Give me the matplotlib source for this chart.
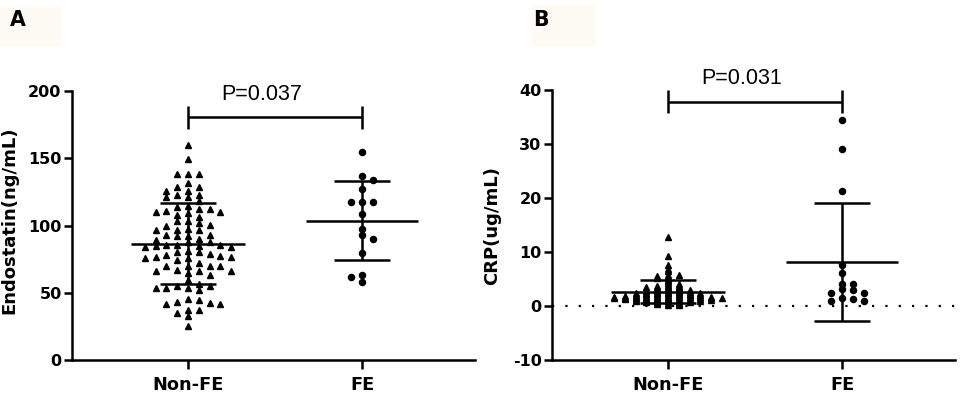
import matplotlib
matplotlib.use('Agg')
import matplotlib.pyplot as plt
import numpy as np
from matplotlib.patches import Rectangle

plt.rcParams['font.family'] = ['DejaVu Sans']
plt.rcParams['axes.unicode_minus'] = False

groups = ['Non-FE', 'FE']

# panel A: endostatin (ng/mL)
endo_nonfe = [
    159.7, 149.3, 138.6, 138.6, 138.6, 131.9, 128.9, 128.9, 125.7, 125.7, 123.0, 123.0, 121.0, 121.0,
    118.0, 114.5, 113.8, 112.0, 112.0, 110.8, 110.3, 110.3, 109.1, 107.8, 106.6, 103.4, 103.1, 101.6,
    100.5, 99.6, 97.6, 97.1, 97.1, 96.6, 93.4, 93.2, 92.2, 92.2, 90.2, 89.7, 88.0, 87.5, 86.0, 86.0,
    86.0, 85.0, 84.7, 84.2, 84.2, 81.0, 80.5, 80.5, 79.3, 78.5, 77.3, 76.8, 76.8, 76.1, 76.1, 74.3,
    72.3, 70.3, 70.3, 69.9, 69.9, 67.4, 66.1, 66.1, 66.1, 64.9, 63.2, 59.4, 57.0, 55.5, 55.0, 53.7,
    53.7, 53.7, 52.5, 45.5, 45.0, 43.1, 42.6, 41.6, 41.6, 37.6, 37.6, 35.1, 32.6, 25.2,
]
endo_fe = [154.9, 137.1, 133.6, 127.0, 117.3, 117.3, 117.3, 108.6, 97.7, 93.0, 90.0, 79.7, 63.3, 61.6, 58.4]
endo_mean = [86.7, 103.8]
endo_sd = [30.0, 29.3]

# panel B: CRP (ug/mL)
crp_nonfe = [
    12.8, 9.3, 7.6, 6.8, 6.5, 5.8, 5.7, 5.6, 5.5, 5.3, 5.2, 4.9, 4.6, 4.3, 4.1,
    3.9, 3.8, 3.7, 3.6, 3.6, 3.5, 3.4, 3.3, 3.2, 3.1, 3.0, 3.0,
    2.9, 2.8, 2.8, 2.7, 2.6, 2.6, 2.5, 2.5, 2.4, 2.4, 2.4, 2.3, 2.3, 2.2, 2.2, 2.1, 2.1, 2.0, 2.0, 2.0,
    1.9, 1.9, 1.9, 1.8, 1.8, 1.8, 1.8, 1.7, 1.7, 1.7, 1.6, 1.6, 1.6, 1.6, 1.5, 1.5, 1.5, 1.5,
    1.4, 1.4, 1.4, 1.3, 1.3, 1.3, 1.2, 1.2, 1.2, 1.1, 1.1, 1.0, 1.0, 1.0, 0.9, 0.9, 0.8, 0.8,
    0.7, 0.7, 0.6, 0.5, 0.4, 0.3, 0.2,
]
crp_fe = [34.45, 29.0, 21.4, 7.6, 6.2, 4.2, 4.2, 3.2, 3.0, 2.4, 2.4, 1.5, 1.3, 1.0, 0.9]
crp_mean = [2.7, 8.2]
crp_sd = [2.15, 10.9]


def swarm(vals, step, yh):
    # greedy column-scatter layout: nearest free slot to the centre
    vals = np.asarray(vals, dtype=float)
    xs = np.zeros(len(vals))
    placed = []
    flip = 1
    for i in np.argsort(-vals):
        v = vals[i]
        for k in range(0, 80):
            cands = [0.0] if k == 0 else [flip * k * step / 2, -flip * k * step / 2]
            hit = None
            for c in cands:
                if all(abs(c - px) >= step * 0.99 or abs(v - py) >= yh for px, py in placed):
                    hit = c
                    break
            if hit is not None:
                break
        xs[i] = hit
        placed.append((hit, v))
        flip = -flip
    return xs


def panel(ax, data, means, sds, ylim, yticks, yh, bracket, ptxt, zero_line=False):
    step = 0.062
    markers = ['^', 'o']
    sizes = [3.9, 4.4]
    for i, vals in enumerate(data):
        xs = swarm(vals, step, yh[i])
        ax.plot(i + xs, vals, ls='none', marker=markers[i], ms=sizes[i], color='black',
                mec='black', zorder=3, clip_on=False)
    half_mean = [0.33, 0.32]
    for i, (m, s) in enumerate(zip(means, sds)):
        ax.plot([i - half_mean[i], i + half_mean[i]], [m, m], color='black', lw=1.8, zorder=4,
                solid_capstyle='butt')
        ax.errorbar(i, m, yerr=s, fmt='none', ecolor='black', elinewidth=1.8, capsize=20,
                    capthick=1.8, zorder=4)
    if zero_line:
        ax.axhline(0, color='black', ls=(0, (1, 5)), lw=1.6, zorder=1)
    by, btop, bbot = bracket
    ax.plot([0, 1], [by, by], color='black', lw=1.8, clip_on=False, solid_capstyle='butt')
    for xx in [0, 1]:
        ax.plot([xx, xx], [bbot, btop], color='black', lw=1.8, clip_on=False,
                solid_capstyle='butt')
    ax.text(ptxt[0], ptxt[1], ptxt[2], ha='center', va='center', fontsize=15.5,
            family=['Liberation Sans', 'DejaVu Sans'], clip_on=False)

    ax.set_xlim(-0.667, 1.649)
    ax.set_ylim(*ylim)
    ax.set_yticks(yticks)
    ax.set_xticks([0, 1])
    ax.set_xticklabels(groups)
    for sp in ['top', 'right']:
        ax.spines[sp].set_visible(False)
    for sp in ['left', 'bottom']:
        ax.spines[sp].set_linewidth(1.8)
    ax.tick_params(axis='y', direction='out', length=6, width=1.8, pad=1.5, labelsize=11.5)
    ax.tick_params(axis='x', direction='out', length=6.5, width=1.8, pad=5, labelsize=12.8)
    for lab in ax.get_xticklabels() + ax.get_yticklabels():
        lab.set_fontweight('bold')


fig = plt.figure(figsize=(9.6, 4.04), dpi=100)

# faint beige boxes behind panel letters
fig.patches.append(Rectangle((0 / 960, 1 - 45 / 404), 60 / 960, 38 / 404,
                             transform=fig.transFigure, color='#fefaf4', zorder=0))
fig.patches.append(Rectangle((532 / 960, 1 - 45 / 404), 63 / 960, 40 / 404,
                             transform=fig.transFigure, color='#fefaf4', zorder=0))

axA = fig.add_axes([72 / 960, 1 - 360.3 / 404, 403 / 960, 269.3 / 404])
panel(axA, [endo_nonfe, endo_fe], endo_mean, endo_sd, (0, 200), [0, 50, 100, 150, 200],
      [4.5, 4.0], (180.7, 188.8, 171.7), (0.425, 197.7, 'P=0.037'))

axB = fig.add_axes([552 / 960, 1 - 360.3 / 404, 403 / 960, 270.3 / 404])
panel(axB, [crp_nonfe, crp_fe], crp_mean, crp_sd, (-10, 40), [-10, 0, 10, 20, 30, 40],
      [0.28, 0.9], (37.8, 40.0, 35.7), (0.425, 42.2, 'P=0.031'), zero_line=True)

fig.text(9.5 / 960, 1 - 220 / 404, 'Endostatin(ng/mL)', rotation=90, ha='center', va='center',
         fontsize=13, fontweight='bold')
fig.text(492 / 960, 1 - 226 / 404, 'CRP(ug/mL)', rotation=90, ha='center', va='center',
         fontsize=13, fontweight='bold')

fig.text(18 / 960, 1 - 20 / 404, 'A', ha='center', va='center', fontsize=14.8, fontweight='bold')
fig.text(541 / 960, 1 - 20 / 404, 'B', ha='center', va='center', fontsize=14.8, fontweight='bold')

fig.savefig('out.png', dpi=100)
